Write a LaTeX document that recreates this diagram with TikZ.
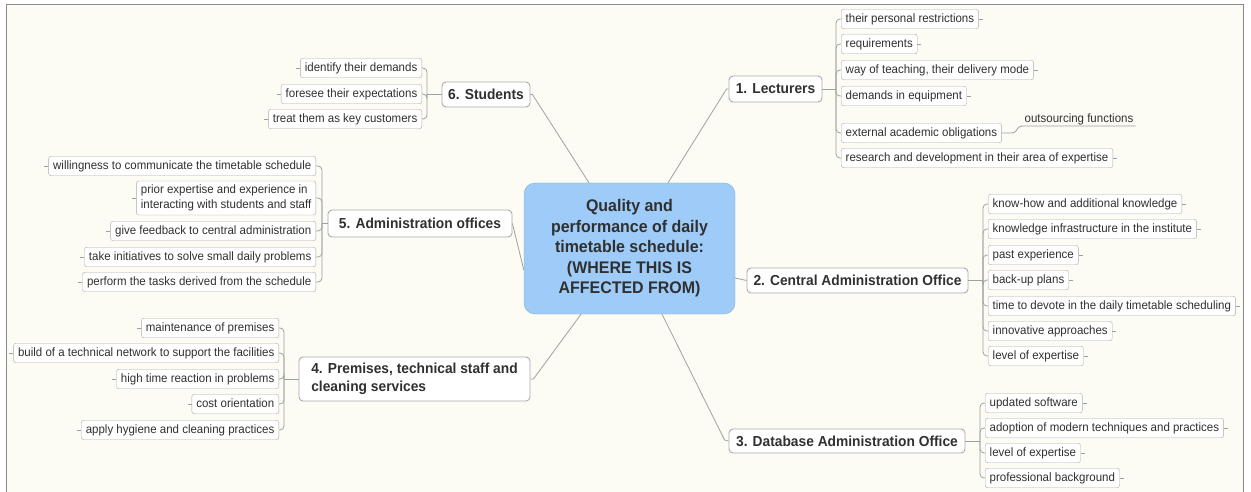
\documentclass[tikz,border=0pt]{standalone}
\usepackage{fontspec}
\setmainfont[FakeStretch=0.95]{Liberation Sans}
\newcommand\leaffont{\fontsize{12.1}{14}\selectfont}
\newcommand\branchfont{\fontsize{14.5}{17.5}\selectfont\bfseries}
\newcommand\corefont{\fontsize{16.8}{20.5}\selectfont\bfseries}
\definecolor{bg}{HTML}{FCFCF4}
\definecolor{frame}{HTML}{8A8A8A}
\definecolor{boxgray}{HTML}{ABABAB}
\definecolor{linegray}{HTML}{A0A0A0}
\definecolor{txt}{HTML}{303030}
\definecolor{corefill}{HTML}{9ECBF8}
\definecolor{coreborder}{HTML}{86AED6}
\tikzset{
  leaf/.style={draw=boxgray, fill=white, rounded corners=2.5pt, font=\leaffont, text=txt,
    inner xsep=4.5pt, inner ysep=0pt, minimum height=19.5pt, text height=9pt, text depth=2.7pt},
  twoleaf/.style={draw=boxgray, fill=white, rounded corners=2.5pt, font=\fontsize{12.1}{15}\selectfont, text=txt,
    inner xsep=4.5pt, inner ysep=0pt, minimum height=34pt, align=left},
  branch/.style={draw=boxgray, fill=white, rounded corners=4pt, font=\branchfont, text=txt,
    inner sep=0pt, line width=0.9pt},
  core/.style={draw=coreborder, fill=corefill, rounded corners=11pt, font=\corefont, text=txt,
    inner sep=0pt, align=center, minimum width=211pt, minimum height=131pt},
  conn/.style={draw=linegray, line width=0.8pt},
  brk/.style={conn, rounded corners=4pt}
}
\begin{document}
\begin{tikzpicture}[x=1pt,y=-1pt]
\useasboundingbox (0,0) rectangle (1251,492);
\fill[white] (0,0) rectangle (1251,492);
\fill[bg] (6,5) rectangle (1243,495);
\draw[frame, line width=1pt] (6,495) -- (6,5) -- (1243,5) -- (1243,495);

% core
\node[core] (Q) at (629.5,248.5) {Quality and\\performance of daily\\timetable schedule:\\(WHERE THIS IS\\AFFECTED FROM)};

% branches
\node[branch, minimum width=93pt, minimum height=26pt] (lect) at (775.5,89) {1. Lecturers};
\node[branch, minimum width=221pt, minimum height=25pt] (cen) at (857.5,280.5) {2. Central Administration Office};
\node[branch, minimum width=236pt, minimum height=24pt] (db) at (847,441) {3. Database Administration Office};
\node[branch, minimum width=231pt, minimum height=44pt, align=left] (prem) at (414.5,379) {4. Premises, technical staff and\\cleaning services};
\node[branch, minimum width=184pt, minimum height=27pt] (adm) at (420,223.5) {5. Administration offices};
\node[branch, minimum width=88pt, minimum height=25pt] (stud) at (486,94.5) {6. Students};

% main connectors
\draw[conn] ([xshift=38.5pt]Q.north) -- ([xshift=-2pt]lect.west) -- (lect.west);
\draw[conn] ([xshift=-40.5pt]Q.north) -- ([xshift=2pt]stud.east) -- (stud.east);
\draw[conn] ([yshift=-29.5pt]Q.east) -- (cen.west);
\draw[conn] ([yshift=-21.5pt]Q.west) -- (adm.east);
\draw[conn] ([xshift=-48.5pt]Q.south) -- ([xshift=3pt]prem.east) -- (prem.east);
\draw[conn] ([xshift=32.5pt]Q.south) -- ([xshift=-4pt,yshift=1pt]db.west) -- (db.west);

% Lecturers
\begin{scope}[every node/.style={leaf, anchor=west}]
\node (L1) at (841,19) {their personal restrictions};
\node (L2) at (841,44) {requirements};
\node (L3) at (841,70) {way of teaching, their delivery mode};
\node (L4) at (841,96) {demands in equipment};
\node (L5) at (841,133) {external academic obligations};
\node (L6) at (841,158) {research and development in their area of expertise};
\end{scope}
\coordinate (bL) at (836,89);
\draw[conn] (lect.east) -- (bL);
\foreach \n in {L1,L2,L3,L4,L5,L6} \draw[brk] (bL) |- (\n.west);
\foreach \n in {L1,L2,L3,L4,L6} \draw[conn] (\n.east) -- ++(4,0);
\node[font=\leaffont, text=txt, inner sep=0pt, minimum width=114pt, text height=9pt, text depth=2.7pt] (out) at (1079,119.5) {outsourcing functions};
\draw[conn] (L5.east) -- (1012,133) .. controls (1018,133) and (1016,126) .. (1022,126) -- (1136,126);

% Central administration
\begin{scope}[every node/.style={leaf, anchor=west}]
\node (C1) at (988,204) {know-how and additional knowledge};
\node (C2) at (988,229) {knowledge infrastructure in the institute};
\node (C3) at (988,255) {past experience};
\node (C4) at (988,280) {back-up plans};
\node (C5) at (988,306) {time to devote in the daily timetable scheduling};
\node (C6) at (988,331) {innovative approaches};
\node (C7) at (988,356) {level of expertise};
\end{scope}
\coordinate (bC) at (983,280.5);
\draw[conn] (cen.east) -- (bC);
\foreach \n in {C1,C2,C3,C4,C5,C6,C7} {\draw[brk] (bC) |- (\n.west); \draw[conn] (\n.east) -- ++(4,0);}

% Database
\begin{scope}[every node/.style={leaf, anchor=west}]
\node (D1) at (985,403) {updated software};
\node (D2) at (985,428) {adoption of modern techniques and practices};
\node (D3) at (985,453) {level of expertise};
\node (D4) at (985,478) {professional background};
\end{scope}
\coordinate (bD) at (980,441);
\draw[conn] (db.east) -- (bD);
\foreach \n in {D1,D2,D3,D4} {\draw[brk] (bD) |- (\n.west); \draw[conn] (\n.east) -- ++(4,0);}

% Students
\begin{scope}[every node/.style={leaf, anchor=east}]
\node (S1) at (422,68) {identify their demands};
\node (S2) at (422,94) {foresee their expectations};
\node (S3) at (422,119) {treat them as key customers};
\end{scope}
\coordinate (bS) at (427,94.5);
\draw[conn] (stud.west) -- (bS);
\foreach \n in {S1,S2,S3} {\draw[brk] (bS) |- (\n.east); \draw[conn] (\n.west) -- ++(-4,0);}

% Administration offices
\begin{scope}[every node/.style={leaf, anchor=east}]
\node (A1) at (316,166) {willingness to communicate the timetable schedule};
\node (A3) at (316,231) {give feedback to central administration};
\node (A4) at (316,257) {take initiatives to solve small daily problems};
\node (A5) at (316,282) {perform the tasks derived from the schedule};
\end{scope}
\node[twoleaf, anchor=east] (A2) at (316,198) {prior expertise and experience in\\interacting with students and staff};
\coordinate (bA) at (322,223.5);
\draw[conn] (adm.west) -- (bA);
\foreach \n in {A1,A2,A3,A4,A5} {\draw[brk] (bA) |- (\n.east); \draw[conn] (\n.west) -- ++(-4,0);}

% Premises
\begin{scope}[every node/.style={leaf, anchor=east}]
\node (P1) at (279,328) {maintenance of premises};
\node (P2) at (279,353) {build of a technical network to support the facilities};
\node (P3) at (279,379) {high time reaction in problems};
\node (P4) at (279,404) {cost orientation};
\node (P5) at (279,430) {apply hygiene and cleaning practices};
\end{scope}
\coordinate (bP) at (284,379);
\draw[conn] (prem.west) -- (bP);
\foreach \n in {P1,P2,P3,P4,P5} {\draw[brk] (bP) |- (\n.east); \draw[conn] (\n.west) -- ++(-4,0);}
\end{tikzpicture}
\end{document}
